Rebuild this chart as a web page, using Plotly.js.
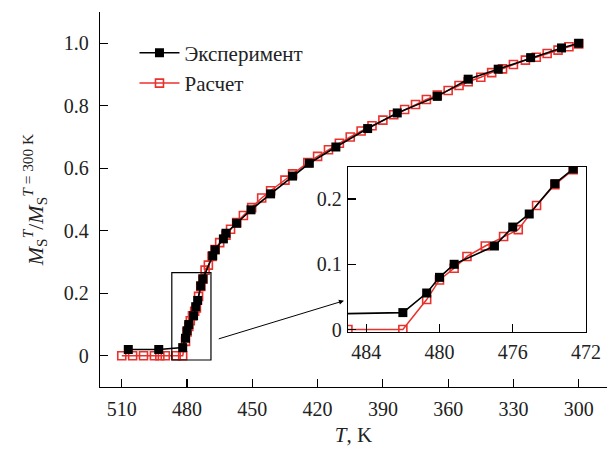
<!DOCTYPE html>
<html><head><meta charset="utf-8">
<script src="https://cdn.plot.ly/plotly-3.0.1.min.js"></script>
<style>html,body{margin:0;padding:0;background:#fff}#chart{width:607px;height:452px}</style>
</head><body><div id="chart"></div>
<script>
// Эксперимент (black filled squares)
const expT = [507, 493, 482, 480.7, 480, 479.2, 477, 476, 475.1, 473.7, 472.7, 468.2, 467.1, 463.3, 462.1, 457.2, 450.6, 441.6, 431.5, 423.8, 411.6, 397.0, 383.4, 365.0, 350.8, 337.0, 322.1, 307.9, 300];
const expM = [0.020, 0.020, 0.026, 0.056, 0.080, 0.100, 0.128, 0.157, 0.177, 0.2235, 0.246, 0.320, 0.339, 0.374, 0.392, 0.424, 0.467, 0.518, 0.575, 0.616, 0.668, 0.727, 0.777, 0.830, 0.885, 0.917, 0.954, 0.985, 1.0];
// Расчет (red open squares)
const calcT = [510, 505, 500, 495, 492.5, 490, 485, 482, 480.7, 480, 479.2, 478.5, 477.5, 476.5, 475.7, 474.7, 473.7, 472.7, 471.7, 470.2, 468.5, 467.1, 465, 462.1, 460, 457.2, 454.1, 450.3, 445.7, 441.6, 435, 431.5, 424.5, 420, 415, 410, 405, 400, 395, 390, 385, 380, 375, 370, 365, 360, 355, 350.8, 345, 340, 335, 330, 324.5, 319.5, 314.5, 309.5, 304.5, 300];
const calcM = [0, 0, 0, 0, 0, 0, 0, 0, 0.046, 0.076, 0.094, 0.112, 0.128, 0.1425, 0.153, 0.190, 0.222, 0.245, 0.274, 0.290, 0.318, 0.340, 0.362, 0.386, 0.405, 0.426, 0.449, 0.474, 0.505, 0.528, 0.562, 0.582, 0.618, 0.638, 0.659, 0.680, 0.700, 0.719, 0.736, 0.754, 0.771, 0.788, 0.804, 0.820, 0.834, 0.849, 0.865, 0.877, 0.891, 0.906, 0.918, 0.932, 0.946, 0.955, 0.967, 0.978, 0.989, 0.998];

const mainXTicks = [510, 480, 450, 420, 390, 360, 330, 300];
const mainYTicks = [0, 0.2, 0.4, 0.6, 0.8, 1.0];
const mainYText = ['0', '0.2', '0.4', '0.6', '0.8', '1.0'];
const insetXTicks = [484, 480, 476, 472];
const insetYTicks = [0, 0.1, 0.2];
const insetYText = ['0', '0.1', '0.2'];
const seriesNames = ['Эксперимент', 'Расчет'];

const FONT = '"Liberation Serif", "DejaVu Serif", serif';
const RED = '#e8322d';

const expStyle = {mode: 'lines+markers', line: {color: '#000', width: 1.6}, marker: {symbol: 'square', size: 9, color: '#000'}};
const calcStyle = {mode: 'lines+markers', line: {color: RED, width: 1.5}, marker: {symbol: 'square-open', size: 8, color: RED, line: {width: 1.6, color: RED}}};

const data = [
  Object.assign({x: calcT, y: calcM, name: seriesNames[1], xaxis: 'x', yaxis: 'y', legendrank: 2}, calcStyle),
  Object.assign({x: expT, y: expM, name: seriesNames[0], xaxis: 'x', yaxis: 'y', legendrank: 1}, expStyle),
  Object.assign({x: calcT, y: calcM, name: seriesNames[1], xaxis: 'x2', yaxis: 'y2', showlegend: false}, calcStyle),
  Object.assign({x: expT, y: expM, name: seriesNames[0], xaxis: 'x2', yaxis: 'y2', showlegend: false}, expStyle)
];

const axisCommon = {showgrid: false, zeroline: false, showline: true, linecolor: '#000', linewidth: 1.2,
  ticks: 'inside', ticklen: 8, tickwidth: 1.2, tickcolor: '#000', tickfont: {family: FONT, size: 20, color: '#222'}};

const layout = {
  width: 607, height: 452,
  margin: {l: 100, r: 0, t: 12, b: 65},
  paper_bgcolor: '#fff', plot_bgcolor: 'rgba(0,0,0,0)',
  font: {family: FONT, color: '#222'},
  showlegend: true,
  legend: {x: 0.068, y: 0.945, xanchor: 'left', yanchor: 'top', bgcolor: 'rgba(0,0,0,0)',
    font: {family: FONT, size: 21, color: '#222'}, traceorder: 'normal', itemwidth: 40, tracegroupgap: 6},
  xaxis: Object.assign({}, axisCommon, {range: [520, 287], tickmode: 'array', tickvals: mainXTicks,
    domain: [0, 1], anchor: 'y', ticklabelstandoff: 4,
    title: {text: '<i>T</i>, K', font: {family: FONT, size: 21, color: '#222'}, standoff: 8}}),
  yaxis: Object.assign({}, axisCommon, {range: [-0.1, 1.1], tickmode: 'array', tickvals: mainYTicks, ticktext: mainYText,
    domain: [0, 1], anchor: 'x', ticklabelstandoff: 6,
    title: {text: '<i>M</i><sub>S</sub><sup><i>T</i></sup>/<i>M</i><sub>S</sub><sup><i>T</i> = 300 K</sup>', font: {family: FONT, size: 22, color: '#222'}, standoff: 14}}),
  xaxis2: Object.assign({}, axisCommon, {range: [485, 472], tickmode: 'array', tickvals: insetXTicks,
    domain: [0.489, 0.9586], anchor: 'y2', mirror: true, ticklabelstandoff: 2}),
  yaxis2: Object.assign({}, axisCommon, {range: [-0.0037, 0.249], tickmode: 'array', tickvals: insetYTicks, ticktext: insetYText,
    domain: [0.1467, 0.5867], anchor: 'x2', mirror: true, ticklabelstandoff: 1}),
  shapes: [
    {type: 'rect', xref: 'x', yref: 'y', x0: 487, x1: 469, y0: -0.0136, y1: 0.266, line: {color: '#000', width: 1.2}, fillcolor: 'rgba(0,0,0,0)'}
  ],
  annotations: [
    {xref: 'x', yref: 'y', axref: 'x', ayref: 'y', x: 407.9, y: 0.176, ax: 466.1, ay: 0.0526,
      showarrow: true, arrowhead: 2, arrowsize: 1, arrowwidth: 1, arrowcolor: '#000', text: ''}
  ]
};

Plotly.newPlot('chart', data, layout, {displayModeBar: false, staticPlot: true});
</script></body></html>
